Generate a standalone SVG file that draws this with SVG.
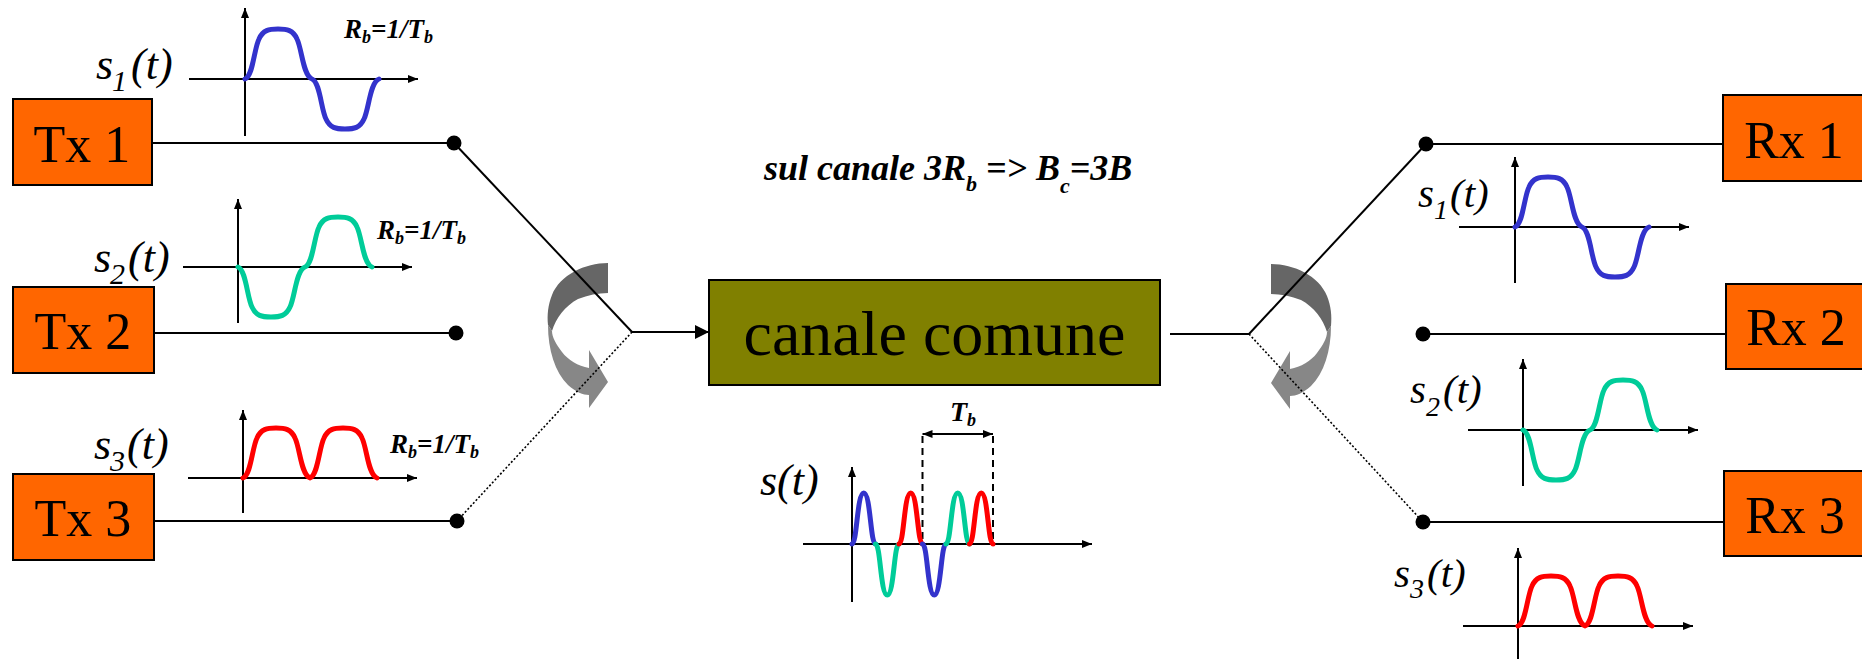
<svg xmlns="http://www.w3.org/2000/svg" xmlns:xlink="http://www.w3.org/1999/xlink" width="1862" height="659" viewBox="0 0 1862 659">
<style>
  .box { fill: #FF6600; stroke: #000; stroke-width: 2; }
  .chan { fill: #808000; stroke: #000; stroke-width: 2; }
  .lbl { font-family: "Liberation Serif", "Times New Roman", serif; fill: #000; }
  .box-t { font-size: 52px; text-anchor: middle; }
  .math { font-style: italic; font-size: 44px; }
  .mathR { font-style: italic; font-size: 41px; }
  .bi { font-style: italic; font-weight: bold; }
  .rb { font-size: 27px; }
  .wire { stroke: #000; stroke-width: 2; fill: none; }
  .dot-line { stroke: #000; stroke-width: 1.6; fill: none; stroke-dasharray: 2 2; }
  .axis { stroke: #000; stroke-width: 2; fill: none; }
  .wave { fill: none; stroke-width: 5; stroke-linecap: round; stroke-linejoin: round; }
  .blue { stroke: #3333CC; }
  .green { stroke: #00CC99; }
  .red { stroke: #FF0000; }
  .dash { stroke: #000; stroke-width: 2; stroke-dasharray: 7 5; fill: none; }
</style>
<defs>
  <marker id="ax" viewBox="0 0 10 8" refX="10" refY="4" markerWidth="10" markerHeight="8" markerUnits="userSpaceOnUse" orient="auto-start-reverse">
    <path d="M0,0 L10,4 L0,8 z" fill="#000"/>
  </marker>
  <marker id="big" viewBox="0 0 14 14" refX="14" refY="7" markerWidth="14" markerHeight="14" markerUnits="userSpaceOnUse" orient="auto">
    <path d="M0,0 L14,7 L0,14 z" fill="#000"/>
  </marker>
  <g id="curvArrow">
    <path d="M608,263 C585,263 560,275 552,295 C548,305 547,315 548,325 L552,331 C556,318 565,306 578,299 C588,295 598,293 608,293 Z" fill="#666666"/>
    <path d="M548,325 C548,350 555,372 568,385 C576,392 583,395 589,395 L589,408 L608,382 L589,350 L589,368 C578,366 568,360 562,352 C556,344 552,337 552,331 Z" fill="#878787"/>
  </g>
</defs>

<rect width="1862" height="659" fill="#fff"/>

<!-- rotating switch arrows -->
<g id="switch-tx"><use xlink:href="#curvArrow" href="#curvArrow"/></g>
<g id="switch-rx"><use xlink:href="#curvArrow" href="#curvArrow" transform="translate(1879,1) scale(-1,1)"/></g>

<!-- connectors -->
<g id="connectors">
  <line class="wire" x1="152" y1="143" x2="454" y2="143"/>
  <line class="wire" x1="154" y1="333" x2="456" y2="333"/>
  <line class="wire" x1="154" y1="521" x2="457" y2="521"/>
  <line class="wire" x1="454" y1="143" x2="632" y2="332"/>
  <line class="dot-line" x1="632" y1="332" x2="457" y2="521"/>
  <line class="wire" x1="632" y1="332" x2="709" y2="332" marker-end="url(#big)"/>
  <line class="wire" x1="1170" y1="334" x2="1249" y2="334"/>
  <line class="wire" x1="1249" y1="334" x2="1426" y2="144"/>
  <line class="dot-line" x1="1249" y1="334" x2="1423" y2="522"/>
  <line class="wire" x1="1426" y1="144" x2="1723" y2="144"/>
  <line class="wire" x1="1423" y1="334" x2="1726" y2="334"/>
  <line class="wire" x1="1423" y1="522" x2="1724" y2="522"/>
  <circle cx="454" cy="143" r="7.5" fill="#000"/>
  <circle cx="456" cy="333" r="7.5" fill="#000"/>
  <circle cx="457" cy="521" r="7.5" fill="#000"/>
  <circle cx="1426" cy="144" r="7.5" fill="#000"/>
  <circle cx="1423" cy="334" r="7.5" fill="#000"/>
  <circle cx="1423" cy="522" r="7.5" fill="#000"/>
</g>

<!-- transmitters -->
<g id="tx1"><rect class="box" x="13" y="99" width="139" height="86"/><text class="lbl box-t" x="82" y="162">Tx 1</text></g>
<g id="tx2"><rect class="box" x="13" y="287" width="141" height="86"/><text class="lbl box-t" x="83" y="349">Tx 2</text></g>
<g id="tx3"><rect class="box" x="13" y="474" width="141" height="86"/><text class="lbl box-t" x="83" y="536">Tx 3</text></g>

<!-- receivers -->
<g id="rx1"><rect class="box" x="1723" y="95" width="142" height="86"/><text class="lbl box-t" x="1794" y="158">Rx 1</text></g>
<g id="rx2"><rect class="box" x="1726" y="284" width="142" height="85"/><text class="lbl box-t" x="1796" y="345">Rx 2</text></g>
<g id="rx3"><rect class="box" x="1724" y="471" width="142" height="85"/><text class="lbl box-t" x="1795" y="533">Rx 3</text></g>

<!-- common channel -->
<g id="canale">
  <rect class="chan" x="709" y="280" width="451" height="105"/>
  <text class="lbl" x="934.5" y="355" font-size="64" text-anchor="middle">canale comune</text>
</g>

<!-- title -->
<g id="title">
  <text class="lbl bi" x="764" y="180" font-size="36">sul canale 3R<tspan font-size="22" dy="11">b</tspan><tspan dy="-11"> =&gt; B</tspan><tspan font-size="22" dy="13">c</tspan><tspan dy="-13">=3B</tspan></text>
</g>

<!-- left graph s1 -->
<g id="graph-tx1">
  <line class="axis" x1="245" y1="136" x2="245" y2="8" marker-end="url(#ax)"/>
  <line class="axis" x1="189" y1="79" x2="418" y2="79" marker-end="url(#ax)"/>
  <path class="wave blue" d="M245,79 c8,-3 9,-30 14,-40 c4,-9 10,-10 19,-10 c9,0 15,1 19,10 c5,10 6,37 15,40 c8,3 9,30 14,40 c4,9 10,10 19,10 c9,0 15,-1 19,-10 c5,-10 6,-37 15,-40"/>
  <text class="lbl math" x="96" y="79">s<tspan x="112" y="91" font-size="30">1</tspan><tspan x="131" y="79">(t)</tspan></text>
  <text class="lbl bi rb" x="344" y="38">R<tspan font-size="18" dy="5">b</tspan><tspan dy="-5">=1/T</tspan><tspan font-size="18" dy="5">b</tspan></text>
</g>

<!-- left graph s2 -->
<g id="graph-tx2">
  <line class="axis" x1="238" y1="323" x2="238" y2="199" marker-end="url(#ax)"/>
  <line class="axis" x1="183" y1="267" x2="412" y2="267" marker-end="url(#ax)"/>
  <path class="wave green" d="M238,267 c8,3 9,30 14,40 c4,9 10,10 19,10 c9,0 15,-1 19,-10 c5,-10 6,-37 15,-40 c8,-3 9,-30 14,-40 c4,-9 10,-10 19,-10 c9,0 15,1 19,10 c5,10 6,37 15,40"/>
  <text class="lbl math" x="94" y="272">s<tspan x="110" y="284" font-size="30">2</tspan><tspan x="128" y="272">(t)</tspan></text>
  <text class="lbl bi rb" x="377" y="239">R<tspan font-size="18" dy="5">b</tspan><tspan dy="-5">=1/T</tspan><tspan font-size="18" dy="5">b</tspan></text>
</g>

<!-- left graph s3 -->
<g id="graph-tx3">
  <line class="axis" x1="243" y1="513" x2="243" y2="410" marker-end="url(#ax)"/>
  <line class="axis" x1="188" y1="478" x2="417" y2="478" marker-end="url(#ax)"/>
  <path class="wave red" d="M243,478 c8,-3 9,-30 14,-40 c4,-9 10,-10 19,-10 c9,0 15,1 19,10 c5,10 6,37 15,40 c8,-3 9,-30 14,-40 c4,-9 10,-10 19,-10 c9,0 15,1 19,10 c5,10 6,37 15,40"/>
  <text class="lbl math" x="94" y="459">s<tspan x="110" y="471" font-size="30">3</tspan><tspan x="127" y="459">(t)</tspan></text>
  <text class="lbl bi rb" x="390" y="453">R<tspan font-size="18" dy="5">b</tspan><tspan dy="-5">=1/T</tspan><tspan font-size="18" dy="5">b</tspan></text>
</g>

<!-- right graph s1 -->
<g id="graph-rx1">
  <line class="axis" x1="1515" y1="283" x2="1515" y2="157" marker-end="url(#ax)"/>
  <line class="axis" x1="1459" y1="227" x2="1689" y2="227" marker-end="url(#ax)"/>
  <path class="wave blue" d="M1515,227 c8,-3 9,-30 14,-40 c4,-9 10,-10 19,-10 c9,0 15,1 19,10 c5,10 6,37 15,40 c8,3 9,30 14,40 c4,9 10,10 19,10 c9,0 15,-1 19,-10 c5,-10 6,-37 15,-40"/>
  <text class="lbl mathR" x="1418" y="207">s<tspan x="1434" y="219" font-size="28">1</tspan><tspan x="1450" y="207">(t)</tspan></text>
</g>

<!-- right graph s2 -->
<g id="graph-rx2">
  <line class="axis" x1="1523" y1="486" x2="1523" y2="359" marker-end="url(#ax)"/>
  <line class="axis" x1="1468" y1="430" x2="1698" y2="430" marker-end="url(#ax)"/>
  <path class="wave green" d="M1523,430 c8,3 9,30 14,40 c4,9 10,10 19,10 c9,0 15,-1 19,-10 c5,-10 6,-37 15,-40 c8,-3 9,-30 14,-40 c4,-9 10,-10 19,-10 c9,0 15,1 19,10 c5,10 6,37 15,40"/>
  <text class="lbl mathR" x="1410" y="403">s<tspan x="1426" y="416" font-size="28">2</tspan><tspan x="1443" y="403">(t)</tspan></text>
</g>

<!-- right graph s3 -->
<g id="graph-rx3">
  <line class="axis" x1="1518" y1="659" x2="1518" y2="548" marker-end="url(#ax)"/>
  <line class="axis" x1="1463" y1="626" x2="1693" y2="626" marker-end="url(#ax)"/>
  <path class="wave red" d="M1518,626 c8,-3 9,-30 14,-40 c4,-9 10,-10 19,-10 c9,0 15,1 19,10 c5,10 6,37 15,40 c8,-3 9,-30 14,-40 c4,-9 10,-10 19,-10 c9,0 15,1 19,10 c5,10 6,37 15,40"/>
  <text class="lbl mathR" x="1394" y="587">s<tspan x="1410" y="598" font-size="28">3</tspan><tspan x="1427" y="587">(t)</tspan></text>
</g>

<!-- multiplexed signal -->
<g id="graph-mux">
  <line class="axis" x1="852" y1="602" x2="852" y2="467" marker-end="url(#ax)"/>
  <line class="axis" x1="803" y1="544" x2="1092" y2="544" marker-end="url(#ax)"/>
  <line class="dash" x1="922.5" y1="436" x2="922.5" y2="544"/>
  <line class="dash" x1="993" y1="436" x2="993" y2="544"/>
  <line class="axis" x1="922.5" y1="434" x2="993" y2="434" marker-start="url(#ax)" marker-end="url(#ax)"/>
  <text class="lbl bi" x="950" y="421" font-size="28">T<tspan font-size="18" dy="5">b</tspan></text>
  <path class="wave blue" d="M852,544 c5,0 5,-51 11.75,-51 c6.75,0 6.75,51 11.75,51"/>
  <path class="wave green" d="M875.5,544 c5,0 5,51 11.75,51 c6.75,0 6.75,-51 11.75,-51"/>
  <path class="wave red" d="M899,544 c5,0 5,-51 11.75,-51 c6.75,0 6.75,51 11.75,51"/>
  <path class="wave blue" d="M922.5,544 c5,0 5,51 11.75,51 c6.75,0 6.75,-51 11.75,-51"/>
  <path class="wave green" d="M946,544 c5,0 5,-51 11.75,-51 c6.75,0 6.75,51 11.75,51"/>
  <path class="wave red" d="M969.5,544 c5,0 5,-51 11.75,-51 c6.75,0 6.75,51 11.75,51"/>
  <text class="lbl math" x="760" y="495">s(t)</text>
</g>
</svg>
